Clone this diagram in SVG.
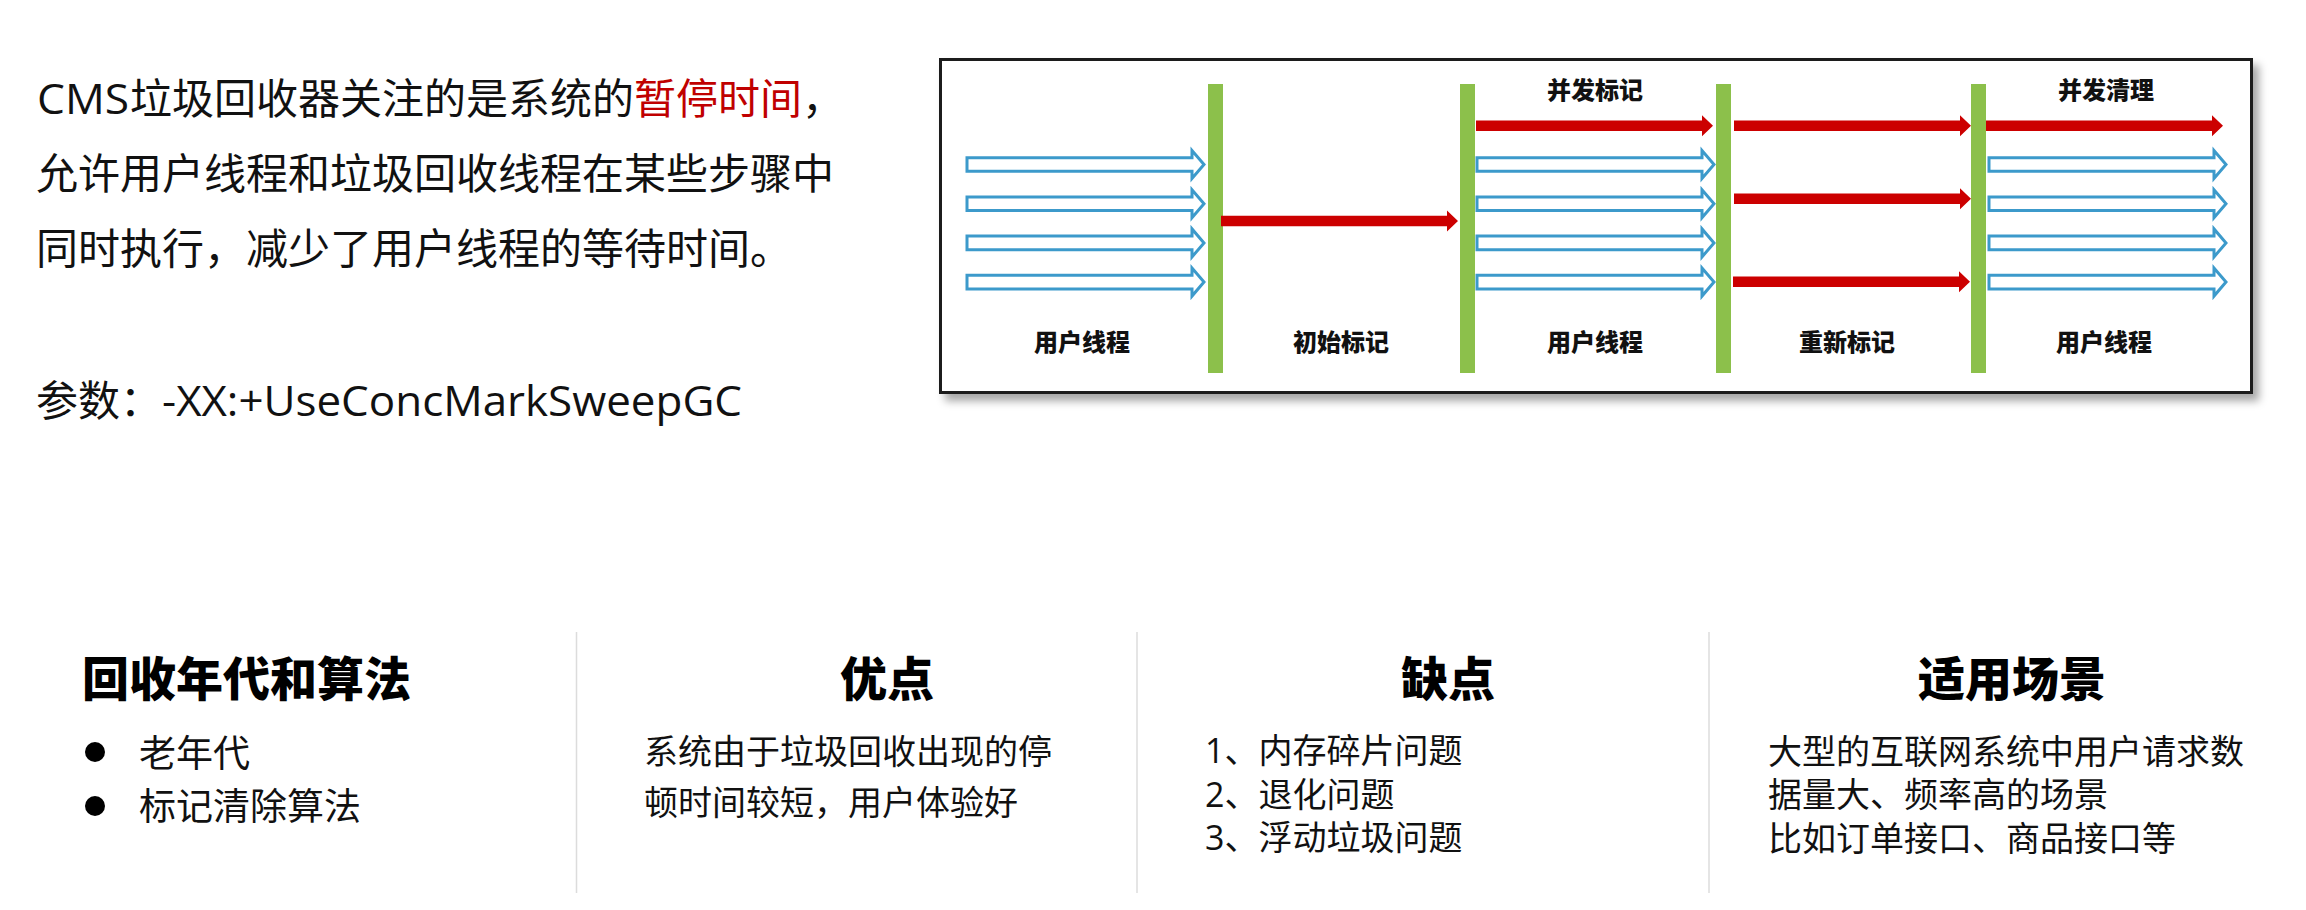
<svg xmlns="http://www.w3.org/2000/svg" xmlns:xlink="http://www.w3.org/1999/xlink" width="2306" height="910" viewBox="0 0 2306 910">
<style>
.t{font-family:"Open Sans","Noto Sans CJK SC",sans-serif;fill:#111}
.b44{font-size:42px}
.lab{font-family:"Noto Sans CJK SC",sans-serif;font-size:24px;font-weight:900;fill:#111;text-anchor:middle}
.h{font-family:"Noto Sans CJK SC",sans-serif;font-size:47px;font-weight:900;fill:#000}
.c1{font-size:37px}
.c2{font-size:34px}
.bar{fill:#8CC04B}
.blue{fill:#fff;stroke:#3C9ACB;stroke-width:3}
.red{fill:#CC0000}
.div{stroke:#DCDCDC;stroke-width:1.5}
</style>
<defs>
<filter id="sh" x="-5%" y="-10%" width="115%" height="130%">
<feDropShadow dx="6" dy="7" stdDeviation="4" flood-color="#000" flood-opacity="0.35"/>
</filter>
<path id="ba" d="M1,-6.8 H226 V-14 L238,0 L226,14 V6.8 H1 Z"/>
<path id="ra" d="M0,-5.3 H226 V-10.5 L237,0 L226,10.5 V5.3 H0 Z"/>
</defs>
<rect width="2306" height="910" fill="#fff"/>

<g id="intro">
<text class="t b44" x="37" y="114" textLength="92" lengthAdjust="spacingAndGlyphs">CMS</text>
<text class="t b44" x="130" y="114">垃圾回收器关注的是系统的<tspan fill="#C00000">暂停时间</tspan>，</text>
<text class="t b44" x="36" y="189">允许用户线程和垃圾回收线程在某些步骤中</text>
<text class="t b44" x="36" y="264">同时执行，减少了用户线程的等待时间。</text>
<text class="t b44" x="36" y="416">参数：</text>
<text class="t b44" x="162" y="416" textLength="580" lengthAdjust="spacingAndGlyphs">-XX:+UseConcMarkSweepGC</text>
</g>

<g id="timeline">
<rect x="940.5" y="59.5" width="1311" height="333" fill="#fff" stroke="#1a1a1a" stroke-width="3" filter="url(#sh)"/>
<g id="bars">
<rect class="bar" x="1208" y="84" width="15" height="289"/>
<rect class="bar" x="1460" y="84" width="15" height="289"/>
<rect class="bar" x="1716" y="84" width="15" height="289"/>
<rect class="bar" x="1971" y="84" width="15" height="289"/>
</g>
<g id="connectors">
<use href="#ba" class="blue" x="966" y="164.5"/>
<use href="#ba" class="blue" x="966" y="203.7"/>
<use href="#ba" class="blue" x="966" y="242.9"/>
<use href="#ba" class="blue" x="966" y="282.1"/>
<use href="#ba" class="blue" x="1476" y="164.5"/>
<use href="#ba" class="blue" x="1476" y="203.7"/>
<use href="#ba" class="blue" x="1476" y="242.9"/>
<use href="#ba" class="blue" x="1476" y="282.1"/>
<use href="#ba" class="blue" x="1988" y="164.5"/>
<use href="#ba" class="blue" x="1988" y="203.7"/>
<use href="#ba" class="blue" x="1988" y="242.9"/>
<use href="#ba" class="blue" x="1988" y="282.1"/>
<use href="#ra" class="red" x="1221" y="221"/>
<use href="#ra" class="red" x="1476" y="125.7"/>
<use href="#ra" class="red" x="1734" y="125.7"/>
<use href="#ra" class="red" x="1734" y="198.7"/>
<use href="#ra" class="red" x="1733" y="281.7"/>
<use href="#ra" class="red" x="1986" y="125.7"/>
</g>
<g id="labels">
<text class="lab" x="1082" y="350.8">用户线程</text>
<text class="lab" x="1341" y="350.8">初始标记</text>
<text class="lab" x="1595" y="350.8">用户线程</text>
<text class="lab" x="1847" y="350.8">重新标记</text>
<text class="lab" x="2104" y="350.8">用户线程</text>
<text class="lab" x="1595" y="98.8">并发标记</text>
<text class="lab" x="2106" y="98.8">并发清理</text>
</g>
</g>

<g id="dividers">
<line class="div" x1="576.5" y1="632" x2="576.5" y2="893"/>
<line class="div" x1="1137" y1="632" x2="1137" y2="893"/>
<line class="div" x1="1709" y1="632" x2="1709" y2="893"/>
</g>

<g id="col-algo">
<text class="h" x="82" y="696">回收年代和算法</text>
<circle cx="95" cy="752" r="10" fill="#000"/>
<circle cx="95" cy="806" r="10" fill="#000"/>
<text class="t c1" x="139" y="766.5">老年代</text>
<text class="t c1" x="139" y="819.5">标记清除算法</text>
</g>

<g id="col-pros">
<text class="h" x="887" y="696" text-anchor="middle">优点</text>
<text class="t c2" x="644" y="764">系统由于垃圾回收出现的停</text>
<text class="t c2" x="644" y="814.5">顿时间较短，用户体验好</text>
</g>

<g id="col-cons">
<text class="h" x="1448" y="696" text-anchor="middle">缺点</text>
<text class="t c2" x="1205" y="762.5">1、内存碎片问题</text>
<text class="t c2" x="1205" y="806.5">2、退化问题</text>
<text class="t c2" x="1205" y="850">3、浮动垃圾问题</text>
</g>

<g id="col-use">
<text class="h" x="2012" y="696" text-anchor="middle">适用场景</text>
<text class="t c2" x="1768" y="763.5">大型的互联网系统中用户请求数</text>
<text class="t c2" x="1768" y="807">据量大、频率高的场景</text>
<text class="t c2" x="1768" y="851">比如订单接口、商品接口等</text>
</g>
</svg>
